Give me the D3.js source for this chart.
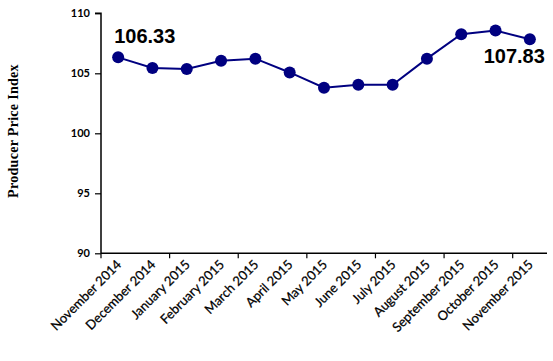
<!DOCTYPE html>
<html><head><meta charset="utf-8">
<script src="https://cdn.jsdelivr.net/npm/d3@7"></script>
<style>body{margin:0;background:#fff}svg{display:block}</style>
</head><body>
<svg id="c" width="553" height="361"></svg>
<script>
const months = ["November 2014","December 2014","January 2015","February 2015","March 2015","April 2015","May 2015","June 2015","July 2015","August 2015","September 2015","October 2015","November 2015"];
const ppi = [106.33,105.44,105.36,106.05,106.22,105.07,103.8,104.05,104.05,106.22,108.25,108.56,107.83];
const yTicks = [90,95,100,105,110];

const svg = d3.select("#c");
const L=101, R=547, T=13.3, B=253.3;
const x = d3.scaleBand().domain(months).range([L,R]);
const y = d3.scaleLinear().domain([90,110]).range([B,T]);

// y axis
const ya = svg.append("g").attr("transform",`translate(${L},0)`)
  .call(d3.axisLeft(y).tickValues(yTicks).tickSize(6).tickPadding(5));
ya.select(".domain").attr("stroke","#000").attr("stroke-width",1.5).attr("d",`M-6,${T}H0V${B}`);
ya.selectAll(".tick line").attr("stroke-width",1.2);
ya.selectAll("text").attr("font-family","Lato, sans-serif").attr("font-size",11).attr("font-weight","bold").attr("fill","#000");

// x axis
const xa = svg.append("g").attr("transform",`translate(0,${B})`);
xa.append("line").attr("x1",L).attr("x2",R).attr("stroke","#000").attr("stroke-width",1.5);
const bounds = d3.range(0, months.length, 2).map(k=>L + k*x.step());
xa.selectAll("line.t").data(bounds).join("line").attr("class","t")
  .attr("x1",d=>d).attr("x2",d=>d).attr("y1",0).attr("y2",5).attr("stroke","#000").attr("stroke-width",1.2);
xa.selectAll("text").data(months).join("text")
  .attr("transform",d=>`translate(${x(d)+x.bandwidth()/2+4},${12}) rotate(-45)`)
  .attr("text-anchor","end").attr("font-family","Lato, sans-serif").attr("font-size",13).attr("fill","#000")
  .attr("stroke","#000").attr("stroke-width",0.25)
  .text(d=>d);

// y title
svg.append("text").attr("transform","translate(18,131) rotate(-90)")
  .attr("text-anchor","middle").attr("font-family","'Liberation Serif', 'Times New Roman', serif")
  .attr("font-weight","bold").attr("font-size",14).attr("letter-spacing",0.3).text("Producer Price Index");

// line
const cx = d=>x(d)+x.bandwidth()/2;
svg.append("path").datum(ppi.map((v,i)=>[months[i],v]))
  .attr("fill","none").attr("stroke","#000080").attr("stroke-width",2)
  .attr("d",d3.line().x(d=>cx(d[0])).y(d=>y(d[1])));
svg.selectAll("circle").data(ppi).join("circle")
  .attr("cx",(d,i)=>cx(months[i])).attr("cy",d=>y(d)).attr("r",6).attr("fill","#000080");

// data labels
svg.append("text").attr("x",cx(months[0])-4).attr("y",43).attr("font-family","'Liberation Sans', Arial, sans-serif")
  .attr("font-weight","bold").attr("font-size",20).text(ppi[0].toFixed(2));
svg.append("text").attr("x",cx(months[12])+15).attr("y",63).attr("text-anchor","end").attr("font-family","'Liberation Sans', Arial, sans-serif")
  .attr("font-weight","bold").attr("font-size",20).text(ppi[12].toFixed(2));
</script>
</body></html>
